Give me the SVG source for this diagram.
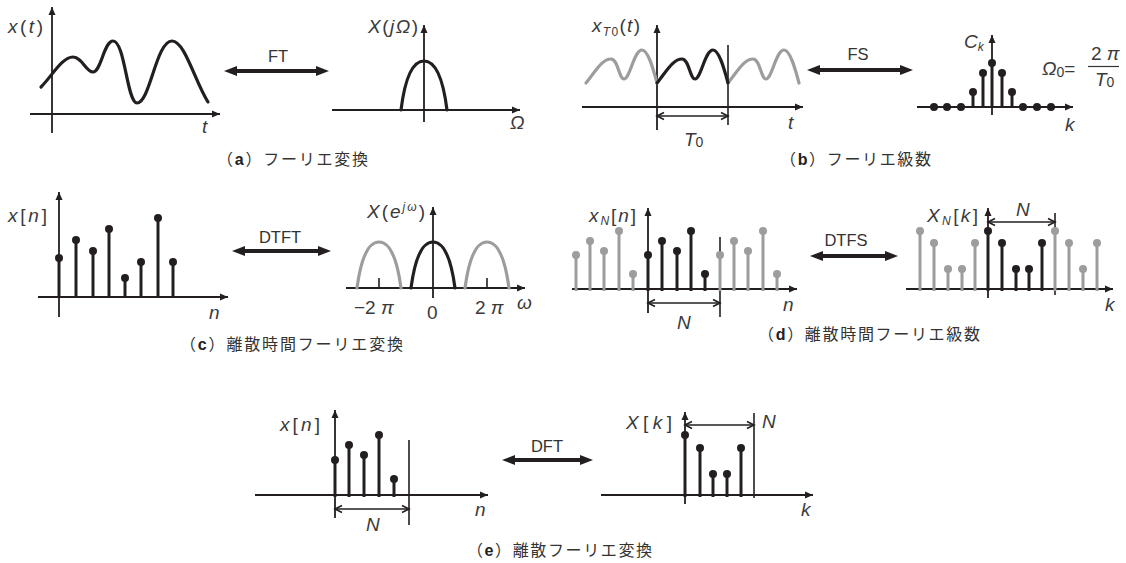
<svg xmlns="http://www.w3.org/2000/svg" width="1126" height="563" viewBox="0 0 1126 563">
<defs>
<style>
.ax{stroke:#231f20;stroke-width:1.8;fill:none;marker-end:url(#ah)}
.thin{stroke:#231f20;stroke-width:1.6;fill:none}
.cv{stroke:#231f20;stroke-width:3.2;fill:none;stroke-linecap:round}
.cg{stroke:#9d9d9d;stroke-width:3.2;fill:none;stroke-linecap:round}
.st{stroke:#231f20;stroke-width:3}
.sg{stroke:#9d9d9d;stroke-width:3}
.dt{fill:#231f20}
.dg{fill:#9d9d9d}
.span{stroke:#231f20;stroke-width:1.6;fill:none;marker-start:url(#sa);marker-end:url(#sa)}
.big{stroke:#231f20;stroke-width:4;fill:none;marker-start:url(#ba);marker-end:url(#ba)}
.lb{font-family:"Liberation Sans","DejaVu Sans",sans-serif;font-style:italic;font-size:19px;fill:#3a3a3a}
.up{font-style:normal}
.op{font-family:"Liberation Sans","DejaVu Sans",sans-serif;font-size:16.5px;fill:#333}
.cap{font-family:"Noto Sans CJK JP","Noto Sans CJK SC",sans-serif;font-size:16px;fill:#333}
.cb{font-family:"Liberation Sans",sans-serif;font-weight:bold;fill:#222}
</style>
<marker id="ah" markerUnits="userSpaceOnUse" markerWidth="9" markerHeight="8" refX="8" refY="3.5" orient="auto" overflow="visible"><path d="M0,0 L8,3.5 L0,7 z" fill="#231f20"/></marker>
<marker id="ba" markerUnits="userSpaceOnUse" markerWidth="14" markerHeight="10" refX="4" refY="5" orient="auto-start-reverse" overflow="visible"><path d="M0,0 L13,5 L0,10 z" fill="#231f20"/></marker>
<marker id="sa" markerUnits="userSpaceOnUse" markerWidth="9" markerHeight="8" refX="8" refY="4" orient="auto-start-reverse" overflow="visible"><path d="M1,0.5 L8,4 L1,7.5" fill="none" stroke="#231f20" stroke-width="1.6"/></marker>
</defs>
<rect width="1126" height="563" fill="#fff"/>

<!-- (a) time -->
<g id="a-time">
<line class="ax" x1="52" y1="133" x2="52" y2="7"/>
<line class="ax" x1="30" y1="114" x2="220" y2="114"/>
<path class="cv" d="M41,87 C52,76 62,57 73,57 C82,57 86,72 93,72 C101,72 104,41 113,41 C125,41 127,103 137,103 C150,103 156,41 172,41 C185,41 195,82 208,102"/>
<text class="lb" x="8" y="33" textLength="35" lengthAdjust="spacing">x<tspan class="up">(</tspan>t<tspan class="up">)</tspan></text>
<text class="lb" x="202" y="133">t</text>
</g>

<!-- (a) freq -->
<g id="a-freq">
<line class="ax" x1="424" y1="122" x2="424" y2="25"/>
<line class="ax" x1="332" y1="110" x2="520" y2="110"/>
<path class="cv" d="M401,110 C405,78 413,61 424,61 C435,61 443,78 447,110"/>
<text class="lb" x="368" y="33" textLength="50" lengthAdjust="spacing">X<tspan class="up">(</tspan>jΩ<tspan class="up">)</tspan></text>
<text class="lb" x="510" y="129">Ω</text>
</g>

<!-- (b) time -->
<g id="b-time">
<line class="ax" x1="657" y1="130" x2="657" y2="25"/>
<line class="ax" x1="582" y1="107" x2="803" y2="107"/>
<line class="thin" x1="728" y1="45" x2="728" y2="125"/>
<path class="cg" transform="translate(-71,0)" d="M657,83 C666,72 673,59 682,59 C689,59 690,79 695,79 C701,79 705,50 713,50 C719,50 724,68 728,83"/>
<path class="cg" transform="translate(71,0)" d="M657,83 C666,72 673,59 682,59 C689,59 690,79 695,79 C701,79 705,50 713,50 C719,50 724,68 728,83"/>
<path class="cv" d="M657,83 C666,72 673,59 682,59 C689,59 690,79 695,79 C701,79 705,50 713,50 C719,50 724,68 728,83"/>
<line class="span" x1="657" y1="116" x2="728" y2="116"/>
<text class="lb" x="684" y="146">T<tspan class="up" font-size="14" dy="1">0</tspan></text>
<text class="lb" x="592" y="32" textLength="48" lengthAdjust="spacing">x<tspan font-size="12" dy="4">T</tspan><tspan class="up" font-size="12">0</tspan><tspan class="up" dy="-4">(</tspan>t<tspan class="up">)</tspan></text>
<text class="lb" x="788" y="129">t</text>
</g>

<!-- (b) freq -->
<g id="b-freq">
<line class="ax" x1="992" y1="115" x2="992" y2="35"/>
<line class="ax" x1="917" y1="107" x2="1073" y2="107"/>
<line class="st" x1="973" y1="107" x2="973" y2="92"/>
<line class="st" x1="983" y1="107" x2="983" y2="73"/>
<line class="st" x1="992" y1="107" x2="992" y2="63"/>
<line class="st" x1="1002" y1="107" x2="1002" y2="73"/>
<line class="st" x1="1012" y1="107" x2="1012" y2="92"/>
<circle class="dt" cx="934" cy="107" r="4"/>
<circle class="dt" cx="947" cy="107" r="4"/>
<circle class="dt" cx="961" cy="107" r="4"/>
<circle class="dt" cx="973" cy="92" r="4"/>
<circle class="dt" cx="983" cy="73" r="4"/>
<circle class="dt" cx="992" cy="63" r="4"/>
<circle class="dt" cx="1002" cy="73" r="4"/>
<circle class="dt" cx="1012" cy="92" r="4"/>
<circle class="dt" cx="1023" cy="107" r="4"/>
<circle class="dt" cx="1037" cy="107" r="4"/>
<circle class="dt" cx="1051" cy="107" r="4"/>
<text class="lb" x="964" y="48">C<tspan font-size="12" dy="3">k</tspan></text>
<text class="lb" x="1042" y="75">Ω<tspan class="up" font-size="14" dy="2">0</tspan><tspan class="up" dy="-2">=</tspan></text>
<text class="lb up" x="1091" y="60">2 <tspan font-style="italic">π</tspan></text>
<line x1="1088" y1="66.5" x2="1119" y2="66.5" stroke="#333" stroke-width="1.2"/>
<text class="lb" x="1095" y="86">T<tspan class="up" font-size="14" dy="1">0</tspan></text>
<text class="lb" x="1065" y="131">k</text>
</g>

<!-- (c) time -->
<g id="c-time">
<line class="ax" x1="59" y1="317" x2="59" y2="192"/>
<line class="ax" x1="38" y1="297" x2="228" y2="297"/>
<g class="st">
<line x1="59" y1="298" x2="59" y2="258"/><line x1="76" y1="298" x2="76" y2="240"/><line x1="93" y1="298" x2="93" y2="251"/><line x1="109" y1="298" x2="109" y2="229"/><line x1="125" y1="298" x2="125" y2="278"/><line x1="141" y1="298" x2="141" y2="262"/><line x1="158" y1="298" x2="158" y2="218"/><line x1="173" y1="298" x2="173" y2="262"/>
</g>
<g class="dt">
<circle cx="59" cy="258" r="4"/><circle cx="76" cy="240" r="4"/><circle cx="93" cy="251" r="4"/><circle cx="109" cy="229" r="4"/><circle cx="125" cy="278" r="4"/><circle cx="141" cy="262" r="4"/><circle cx="158" cy="218" r="4"/><circle cx="173" cy="262" r="4"/>
</g>
<text class="lb" x="8" y="222" textLength="39" lengthAdjust="spacing">x<tspan class="up">[</tspan>n<tspan class="up">]</tspan></text>
<text class="lb" x="209" y="319">n</text>
</g>

<!-- (c) freq -->
<g id="c-freq">
<line class="ax" x1="433" y1="298" x2="433" y2="207"/>
<line class="ax" x1="346" y1="288" x2="525" y2="288"/>
<line class="thin" x1="379" y1="278" x2="379" y2="288"/>
<line class="thin" x1="487" y1="278" x2="487" y2="288"/>
<path class="cg" transform="translate(-54,0)" d="M411,288 C415,258 422,242 433,242 C444,242 451,258 455,288"/>
<path class="cg" transform="translate(54,0)" d="M411,288 C415,258 422,242 433,242 C444,242 451,258 455,288"/>
<path class="cv" d="M411,288 C415,258 422,242 433,242 C444,242 451,258 455,288"/>
<text class="lb" x="367" y="218" textLength="58" lengthAdjust="spacing">X<tspan class="up">(</tspan>e<tspan font-size="12" dy="-7">jω</tspan><tspan class="up" dy="7">)</tspan></text>
<text class="lb up" x="354" y="314">−2 <tspan font-style="italic">π</tspan></text>
<text class="lb up" x="427" y="319">0</text>
<text class="lb up" x="475" y="314">2 <tspan font-style="italic">π</tspan></text>
<text class="lb" x="517" y="309">ω</text>
</g>

<!-- (d) time -->
<g id="d-time">
<line class="ax" x1="648" y1="313" x2="648" y2="208"/>
<line class="ax" x1="572" y1="289" x2="797" y2="289"/>
<line class="thin" x1="720" y1="237" x2="720" y2="317"/>
<g class="sg">
<line x1="576" y1="291" x2="576" y2="255"/><line x1="590" y1="291" x2="590" y2="241"/><line x1="604" y1="291" x2="604" y2="251"/><line x1="619" y1="291" x2="619" y2="231"/><line x1="633" y1="291" x2="633" y2="274"/>
<line x1="720" y1="291" x2="720" y2="255"/><line x1="734" y1="291" x2="734" y2="241"/><line x1="748" y1="291" x2="748" y2="251"/><line x1="763" y1="291" x2="763" y2="231"/><line x1="777" y1="291" x2="777" y2="274"/>
</g>
<g class="dg">
<circle cx="576" cy="255" r="4"/><circle cx="590" cy="241" r="4"/><circle cx="604" cy="251" r="4"/><circle cx="619" cy="231" r="4"/><circle cx="633" cy="274" r="4"/>
<circle cx="720" cy="255" r="4"/><circle cx="734" cy="241" r="4"/><circle cx="748" cy="251" r="4"/><circle cx="763" cy="231" r="4"/><circle cx="777" cy="274" r="4"/>
</g>
<g class="st">
<line x1="648" y1="291" x2="648" y2="255"/><line x1="662" y1="291" x2="662" y2="241"/><line x1="677" y1="291" x2="677" y2="251"/><line x1="691" y1="291" x2="691" y2="231"/><line x1="705" y1="291" x2="705" y2="274"/>
</g>
<g class="dt">
<circle cx="648" cy="255" r="4"/><circle cx="662" cy="241" r="4"/><circle cx="677" cy="251" r="4"/><circle cx="691" cy="231" r="4"/><circle cx="705" cy="274" r="4"/>
</g>
<line class="span" x1="648" y1="303" x2="720" y2="303"/>
<text class="lb" x="677" y="329">N</text>
<text class="lb" x="589" y="222" textLength="47" lengthAdjust="spacing">x<tspan font-size="12" dy="3">N</tspan><tspan class="up" dy="-3">[</tspan>n<tspan class="up">]</tspan></text>
<text class="lb" x="783" y="311">n</text>
</g>

<!-- (d) freq -->
<g id="d-freq">
<line class="ax" x1="988" y1="298" x2="988" y2="208"/>
<line class="ax" x1="906" y1="289" x2="1113" y2="289"/>
<line class="thin" x1="1055" y1="213" x2="1055" y2="295"/>
<g class="sg">
<line x1="920" y1="291" x2="920" y2="231"/><line x1="934" y1="291" x2="934" y2="243"/><line x1="948" y1="291" x2="948" y2="269"/><line x1="962" y1="291" x2="962" y2="269"/><line x1="975" y1="291" x2="975" y2="243"/>
<line x1="1055" y1="291" x2="1055" y2="231"/><line x1="1069" y1="291" x2="1069" y2="243"/><line x1="1083" y1="291" x2="1083" y2="269"/><line x1="1097" y1="291" x2="1097" y2="243"/>
</g>
<g class="dg">
<circle cx="920" cy="231" r="4"/><circle cx="934" cy="243" r="4"/><circle cx="948" cy="269" r="4"/><circle cx="962" cy="269" r="4"/><circle cx="975" cy="243" r="4"/>
<circle cx="1055" cy="231" r="4"/><circle cx="1069" cy="243" r="4"/><circle cx="1083" cy="269" r="4"/><circle cx="1097" cy="243" r="4"/>
</g>
<g class="st">
<line x1="988" y1="291" x2="988" y2="231"/><line x1="1002" y1="291" x2="1002" y2="243"/><line x1="1016" y1="291" x2="1016" y2="269"/><line x1="1029" y1="291" x2="1029" y2="269"/><line x1="1042" y1="291" x2="1042" y2="243"/>
</g>
<g class="dt">
<circle cx="988" cy="231" r="4"/><circle cx="1002" cy="243" r="4"/><circle cx="1016" cy="269" r="4"/><circle cx="1029" cy="269" r="4"/><circle cx="1042" cy="243" r="4"/>
</g>
<line class="span" x1="988" y1="222" x2="1055" y2="222"/>
<text class="lb" x="1016" y="216">N</text>
<text class="lb" x="927" y="222" textLength="51" lengthAdjust="spacing">X<tspan font-size="12" dy="3">N</tspan><tspan class="up" dy="-3">[</tspan>k<tspan class="up">]</tspan></text>
<text class="lb" x="1105" y="311">k</text>
</g>

<!-- (e) time -->
<g id="e-time">
<line class="ax" x1="335" y1="518" x2="335" y2="410"/>
<line class="ax" x1="255" y1="495" x2="488" y2="495"/>
<line class="thin" x1="409" y1="440" x2="409" y2="525"/>
<g class="st">
<line x1="335" y1="497" x2="335" y2="460"/><line x1="349" y1="497" x2="349" y2="445"/><line x1="364" y1="497" x2="364" y2="455"/><line x1="379" y1="497" x2="379" y2="435"/><line x1="394" y1="497" x2="394" y2="479"/>
</g>
<g class="dt">
<circle cx="335" cy="460" r="4"/><circle cx="349" cy="445" r="4"/><circle cx="364" cy="455" r="4"/><circle cx="379" cy="435" r="4"/><circle cx="394" cy="479" r="4"/>
</g>
<line class="span" x1="335" y1="509" x2="409" y2="509"/>
<text class="lb" x="366" y="531">N</text>
<text class="lb" x="280" y="431" textLength="40" lengthAdjust="spacing">x<tspan class="up">[</tspan>n<tspan class="up">]</tspan></text>
<text class="lb" x="475" y="516">n</text>
</g>

<!-- (e) freq -->
<g id="e-freq">
<line class="ax" x1="685" y1="504" x2="685" y2="412"/>
<line class="ax" x1="601" y1="495" x2="813" y2="495"/>
<line class="thin" x1="754" y1="413" x2="754" y2="498"/>
<g class="st">
<line x1="685" y1="497" x2="685" y2="435"/><line x1="700" y1="497" x2="700" y2="448"/><line x1="713" y1="497" x2="713" y2="474"/><line x1="727" y1="497" x2="727" y2="474"/><line x1="741" y1="497" x2="741" y2="448"/>
</g>
<g class="dt">
<circle cx="685" cy="435" r="4"/><circle cx="700" cy="448" r="4"/><circle cx="713" cy="474" r="4"/><circle cx="727" cy="474" r="4"/><circle cx="741" cy="448" r="4"/>
</g>
<line class="span" x1="685" y1="425" x2="754" y2="425"/>
<text class="lb" x="762" y="428">N</text>
<text class="lb" x="626" y="429" textLength="46" lengthAdjust="spacing">X<tspan class="up">[</tspan>k<tspan class="up">]</tspan></text>
<text class="lb" x="801" y="516">k</text>
</g>

<!-- connectors -->
<g id="connectors">
<line class="big" x1="233" y1="71" x2="320" y2="71"/>
<text class="op" x="278" y="62" text-anchor="middle">FT</text>
<line class="big" x1="816" y1="70" x2="904" y2="70"/>
<text class="op" x="858" y="60" text-anchor="middle">FS</text>
<line class="big" x1="241" y1="251" x2="322" y2="251"/>
<text class="op" x="280" y="243" text-anchor="middle">DTFT</text>
<line class="big" x1="819" y1="256" x2="889" y2="256"/>
<text class="op" x="846" y="246" text-anchor="middle">DTFS</text>
<line class="big" x1="511" y1="460" x2="584" y2="460"/>
<text class="op" x="547" y="452" text-anchor="middle">DFT</text>
</g>

<!-- captions -->
<g id="captions">
<text class="cap" x="217" y="165" textLength="151" lengthAdjust="spacing">（<tspan class="cb">a</tspan>）フーリエ変換</text>
<text class="cap" x="780" y="165" textLength="151" lengthAdjust="spacing">（<tspan class="cb">b</tspan>）フーリエ級数</text>
<text class="cap" x="180" y="350" textLength="223" lengthAdjust="spacing">（<tspan class="cb">c</tspan>）離散時間フーリエ変換</text>
<text class="cap" x="758" y="340" textLength="222" lengthAdjust="spacing">（<tspan class="cb">d</tspan>）離散時間フーリエ級数</text>
<text class="cap" x="467" y="556" textLength="185" lengthAdjust="spacing">（<tspan class="cb">e</tspan>）離散フーリエ変換</text>
</g>
</svg>
